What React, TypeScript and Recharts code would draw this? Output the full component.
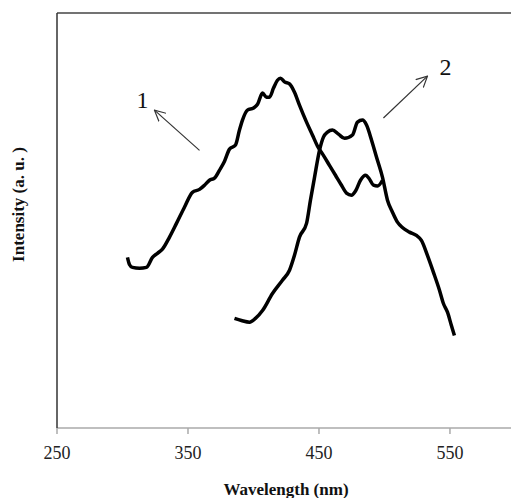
import { LineChart, Line, XAxis, YAxis, ReferenceLine, ReferenceDot } from 'recharts';

const curve1Wavelength = [
  303.8, 305.3, 307.6, 313.0, 318.3, 322.9, 326.7, 330.5, 335.9, 341.2, 347.3, 353.4, 358.8, 362.6,
  366.4, 370.2, 374.0, 377.9, 381.7, 386.3, 389.3, 391.6, 395.4, 400.0, 403.1, 406.9, 409.9, 412.2,
  415.3, 418.3, 420.6, 423.7, 427.5, 431.3, 435.1, 440.5, 445.0, 448.9, 453.4, 458.0, 462.6, 467.2,
  471.0, 474.8, 477.9, 481.7, 485.5, 488.5, 491.6, 494.7, 498.5,
];
const curve1Intensity = [
  41.1, 39.4, 38.7, 38.5, 38.7, 41.1, 42.1, 43.1, 46.0, 49.3, 53.2, 56.8, 57.5, 58.5,
  59.7, 60.2, 62.1, 64.3, 67.2, 68.2, 71.8, 74.2, 76.6, 77.1, 78.0, 80.7, 79.7, 79.7,
  81.9, 83.8, 84.3, 83.4, 82.9, 80.9, 77.8, 73.7, 70.6, 67.9, 65.7, 63.3, 60.9, 58.5,
  56.6, 56.1, 57.1, 59.7, 60.9, 60.0, 58.5, 58.3, 59.7,
];

const curve2Wavelength = [
  385.5, 390.8, 397.0, 401.5, 406.9, 414.5, 422.1, 427.5, 431.3, 435.1, 440.5, 443.5, 446.6, 450.4,
  453.4, 456.5, 460.3, 464.9, 469.5, 475.6, 479.4, 483.2, 486.3, 490.1, 493.9, 498.5, 502.3, 506.1,
  509.9, 513.7, 519.1, 524.4, 528.2, 532.8, 537.4, 542.0, 545.0, 548.1, 551.1, 553.4,
];
const curve2Intensity = [
  26.4, 25.9, 25.5, 26.4, 28.3, 32.4, 35.6, 38.0, 41.6, 46.0, 49.3, 54.9, 60.4, 66.9,
  70.1, 71.3, 71.8, 70.8, 69.8, 70.6, 73.7, 74.2, 73.0, 69.4, 65.3, 60.4, 54.9, 52.0,
  49.6, 48.3, 47.2, 46.4, 45.2, 41.6, 37.5, 33.2, 30.0, 27.9, 24.7, 22.3,
];

const xTicks = [250, 350, 450, 550];

const curve1 = curve1Wavelength.map((nm, i) => ({ nm, v: curve1Intensity[i] }));
const curve2 = curve2Wavelength.map((nm, i) => ({ nm, v: curve2Intensity[i] }));

const serif = '"Liberation Serif", "Times New Roman", serif';

function YLabel(props: any) {
  const { viewBox } = props;
  const x = viewBox.x + 18;
  const y = viewBox.y + viewBox.height / 2 - 16;
  return (
    <text x={x} y={y} transform={`rotate(-90, ${x}, ${y})`} textAnchor="middle" dominantBaseline="central"
      fontFamily={serif} fontWeight="bold" fontSize={17} fill="#111">
      Intensity (a. u. )
    </text>
  );
}

function XLabel(props: any) {
  const { viewBox } = props;
  return (
    <text x={viewBox.x + viewBox.width / 2 + 2} y={viewBox.y + 61} textAnchor="middle" dominantBaseline="central"
      fontFamily={serif} fontWeight="bold" fontSize={17} fill="#111">
      Wavelength (nm)
    </text>
  );
}

export default function App() {
  return (
    <div style={{ position: 'absolute', left: 0, top: 0 }}>
      <LineChart width={511} height={498} margin={{ top: 13, right: 0, bottom: 0, left: 0 }}>
        <defs>
          <marker id="arrowHead" viewBox="0 0 12 12" refX="11" refY="6" markerWidth="12" markerHeight="12"
            markerUnits="userSpaceOnUse" orient="auto">
            <path d="M0,0.5 L11,6 L0,11.5" fill="none" stroke="#333" strokeWidth={1.2} />
          </marker>
        </defs>
        <XAxis dataKey="nm" type="number" domain={[250, 596.6]} ticks={xTicks} allowDataOverflow
          height={70} axisLine={{ stroke: '#aaa', strokeWidth: 1.5 }} tickLine={{ stroke: '#aaa', strokeWidth: 1.5 }}
          tickSize={6} tickMargin={12} tick={{ fill: '#222', fontSize: 18, fontFamily: serif }}
          label={<XLabel />} />
        <YAxis type="number" domain={[0, 100]} width={57} tick={false} tickLine={false}
          axisLine={{ stroke: '#333', strokeWidth: 1.5 }} label={<YLabel />} />
        <ReferenceLine y={100} stroke="#444" strokeWidth={1.5} ifOverflow="visible" />
        <Line data={curve1} dataKey="v" type="monotone" stroke="#000" strokeWidth={3.5} dot={false}
          isAnimationActive={false} />
        <Line data={curve2} dataKey="v" type="monotone" stroke="#000" strokeWidth={3.5} dot={false}
          isAnimationActive={false} />
        <ReferenceLine segment={[{ x: 358.8, y: 66.9 }, { x: 324.4, y: 76.6 }]} stroke="#333" strokeWidth={1.2}
          markerEnd="url(#arrowHead)" />
        <ReferenceLine segment={[{ x: 499.2, y: 74.7 }, { x: 532.8, y: 84.8 }]} stroke="#333" strokeWidth={1.2}
          markerEnd="url(#arrowHead)" />
        <ReferenceDot x={315.3} y={79.2} r={0} fill="none" stroke="none"
          label={{ value: '1', position: 'center', fontSize: 24, fontFamily: serif, fill: '#111' }} />
        <ReferenceDot x={546.6} y={87.2} r={0} fill="none" stroke="none"
          label={{ value: '2', position: 'center', fontSize: 24, fontFamily: serif, fill: '#111' }} />
      </LineChart>
    </div>
  );
}
